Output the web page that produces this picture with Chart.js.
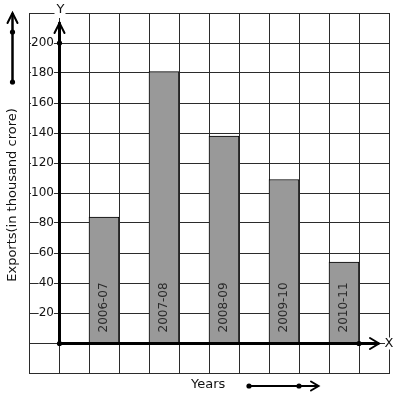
<!DOCTYPE html>
<html>
<head>
<meta charset="utf-8">
<script src="https://cdn.jsdelivr.net/npm/chart.js@4/dist/chart.umd.min.js"></script>
<style>
  html, body { margin: 0; padding: 0; background: #fff; }
  #wrap { width: 397px; height: 399px; }
</style>
</head>
<body>
<div id="wrap"><canvas id="chart" width="397" height="399"></canvas></div>
<script>
// data
var years = ['2006-07', '2007-08', '2008-09', '2009-10', '2010-11'];
var exportValues = [84, 181, 138, 109, 54];
var yTickLabels = [20, 40, 60, 80, 100, 120, 140, 160, 180, 200];

// graph paper: 12 columns, bars stand in every other column starting at the 3rd
var slots = 12;
var slotLabels = [];
var slotValues = [];
for (var i = 0; i < slots; i++) { slotLabels.push(''); slotValues.push(null); }
years.forEach(function (y, k) {
  slotLabels[2 + k * 2] = y;
  slotValues[2 + k * 2] = exportValues[k];
});

Chart.defaults.font.family = 'DejaVu Sans';

var gridColor = '#2b2b2b';

function dot(ctx, x, y) {
  ctx.beginPath();
  ctx.arc(x, y, 2.6, 0, Math.PI * 2);
  ctx.fill();
}

var decorations = {
  id: 'decorations',
  afterDatasetsDraw: function (chart) {
    var ctx = chart.ctx;
    var meta = chart.getDatasetMeta(0);
    ctx.save();
    ctx.fillStyle = '#2a2a2a';
    ctx.font = '12px "DejaVu Sans"';
    ctx.textAlign = 'left';
    ctx.textBaseline = 'middle';
    meta.data.forEach(function (bar, idx) {
      if (slotValues[idx] === null) return;
      ctx.save();
      ctx.translate(bar.x, bar.base - 10);
      ctx.rotate(-Math.PI / 2);
      ctx.fillText(chart.data.labels[idx], 0, 0);
      ctx.restore();
    });
    ctx.restore();
  },
  afterDraw: function (chart) {
    var ctx = chart.ctx;
    var xs = chart.scales.x, ys = chart.scales.y, area = chart.chartArea;
    var ox = Math.round(xs.getPixelForValue(0.5)) + 0.5;
    var oy = Math.round(ys.getPixelForValue(0)) + 0.5;
    var y200 = ys.getPixelForValue(200);
    var xEnd = Math.round(xs.getPixelForValue(10.5));

    ctx.save();
    ctx.strokeStyle = '#000';
    ctx.fillStyle = '#000';
    ctx.lineCap = 'round';

    // Y axis
    ctx.lineWidth = 3;
    ctx.beginPath();
    ctx.moveTo(ox, oy);
    ctx.lineTo(ox, area.top + 10);
    ctx.stroke();
    ctx.lineWidth = 2;
    ctx.beginPath();
    ctx.moveTo(ox - 5, area.top + 20);
    ctx.lineTo(ox, area.top + 10);
    ctx.lineTo(ox + 5, area.top + 20);
    ctx.stroke();

    // X axis
    ctx.lineWidth = 3;
    ctx.beginPath();
    ctx.moveTo(ox, oy);
    ctx.lineTo(xEnd + 19, oy);
    ctx.stroke();
    ctx.lineWidth = 2;
    ctx.beginPath();
    ctx.moveTo(xEnd + 11, oy - 5.5);
    ctx.lineTo(xEnd + 20, oy);
    ctx.lineTo(xEnd + 11, oy + 5.5);
    ctx.stroke();

    dot(ctx, ox, oy);
    dot(ctx, ox, y200);
    dot(ctx, xEnd, oy);

    // axis letters with white behind
    ctx.font = '13px "DejaVu Sans"';
    ctx.textAlign = 'center';
    ctx.textBaseline = 'middle';
    ctx.fillStyle = '#fff';
    ctx.fillRect(ox - 5, area.top - 7, 11, 12);
    ctx.fillRect(area.right - 4, oy - 6, 9, 12);
    ctx.fillStyle = '#111';
    ctx.fillText('Y', ox + 1, area.top - 3);
    ctx.fillText('X', area.right, oy);

    // left arrow
    ctx.fillStyle = '#000';
    var lx = 12.5;
    ctx.lineWidth = 2.5;
    ctx.beginPath();
    ctx.moveTo(lx, area.top + 70);
    ctx.lineTo(lx, area.top + 1);
    ctx.stroke();
    ctx.lineWidth = 2;
    ctx.beginPath();
    ctx.moveTo(lx - 5, area.top + 10);
    ctx.lineTo(lx, area.top);
    ctx.lineTo(lx + 5, area.top + 10);
    ctx.stroke();
    dot(ctx, lx, area.top + 19);
    dot(ctx, lx, area.top + 69);

    // y title
    ctx.fillStyle = '#111';
    ctx.font = '13px "DejaVu Sans"';
    ctx.save();
    ctx.translate(lx, (area.top + area.bottom) / 2 + 2);
    ctx.rotate(-Math.PI / 2);
    ctx.textAlign = 'center';
    ctx.textBaseline = 'middle';
    ctx.fillText('Exports(in thousand crore)', 0, 0);
    ctx.restore();

    // bottom: Years ---->
    var by = area.bottom + 13;
    ctx.textAlign = 'left';
    ctx.textBaseline = 'middle';
    ctx.fillText('Years', 191, by - 1);
    ctx.fillStyle = '#000';
    ctx.lineWidth = 2;
    ctx.beginPath();
    ctx.moveTo(249, by);
    ctx.lineTo(318, by);
    ctx.stroke();
    ctx.beginPath();
    ctx.moveTo(311, by - 4.5);
    ctx.lineTo(318.5, by);
    ctx.lineTo(311, by + 4.5);
    ctx.stroke();
    dot(ctx, 249, by);
    dot(ctx, 299, by);

    ctx.restore();
  }
};

new Chart(document.getElementById('chart'), {
  type: 'bar',
  data: {
    labels: slotLabels,
    datasets: [{
      data: slotValues,
      backgroundColor: '#999999',
      borderColor: '#000',
      borderWidth: 1,
      barPercentage: 1,
      categoryPercentage: 1
    }]
  },
  options: {
    responsive: false,
    animation: false,
    events: [],
    layout: { padding: { left: 29, top: 13, right: 8, bottom: 26 } },
    plugins: { legend: { display: false }, tooltip: { enabled: false } },
    scales: {
      x: {
        grid: { offset: true, color: gridColor, lineWidth: 1, drawTicks: false },
        border: { display: true, color: gridColor },
        ticks: { display: false },
        afterFit: function (s) { s.height = 0; }
      },
      y: {
        min: -20,
        max: 220,
        grid: { color: gridColor, lineWidth: 1, drawTicks: false },
        border: { display: true, color: gridColor },
        ticks: {
          stepSize: 20,
          mirror: true,
          crossAlign: 'far',
          padding: 2,
          color: '#111',
          font: { size: 12 },
          showLabelBackdrop: true,
          backdropColor: '#fff',
          backdropPadding: { x: 0, y: 1 },
          callback: function (v) { return yTickLabels.indexOf(v) >= 0 ? String(v) : ''; }
        },
        afterFit: function (s) { s.width = 0; }
      }
    }
  },
  plugins: [decorations]
});
</script>
</body>
</html>
